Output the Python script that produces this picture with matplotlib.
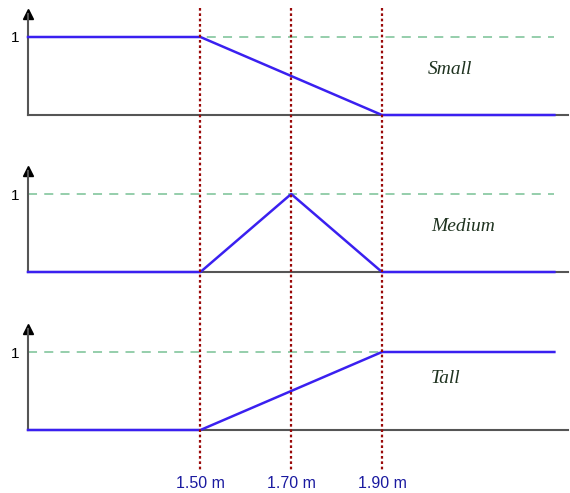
import numpy as np
import matplotlib.pyplot as plt
import matplotlib.transforms as mtransforms

# heights in metres and membership values
x_pts = [1.12, 1.50, 1.70, 1.90, 2.28]
small = [1, 1, 0.5, 0, 0]
medium = [0, 0, 1, 0, 0]
tall = [0, 0, 0.5, 1, 1]
names = ['Small', 'Medium', 'Tall']
name_pos = [(2.05, 0.58), (2.08, 0.58), (2.04, 0.66)]
cut_pts = [1.50, 1.70, 1.90]
cut_labels = ['1.50 m', '1.70 m', '1.90 m']

fig = plt.figure(figsize=(5.7, 4.93), dpi=100)

W, H = 570, 493
left, right = 28, 568
baselines = [115, 272, 430]
unit = 78
top_y = 1.30

axes = []
for base, ys, name, pos in zip(baselines, [small, medium, tall], names, name_pos):
    ax = fig.add_axes([left / W, 1 - base / H, (right - left) / W, unit * top_y / H])
    ax.set_xlim(1.12, 2.31)
    ax.set_ylim(0, top_y)
    for s in ['top', 'right']:
        ax.spines[s].set_visible(False)
    for s in ['left', 'bottom']:
        ax.spines[s].set_color('#555555')
        ax.spines[s].set_linewidth(1.5)
    ax.set_xticks([])
    ax.set_yticks([1])
    ax.set_yticklabels(['1'], fontsize=11, family='Liberation Sans')
    ax.tick_params(axis='y', length=0, pad=6)
    ax.plot([1.12, 2.28], [1, 1], color='#8ccaa5', lw=1.3, ls=(0, (5, 4)))
    ax.plot(x_pts, ys, color='#3a20f0', lw=1.8, clip_on=False, zorder=3)
    ax.plot([0], [top_y], marker='^', color='black', markersize=7,
            transform=ax.get_yaxis_transform(), clip_on=False)
    ax.text(pos[0], pos[1], name, fontsize=14, style='italic',
            family='Liberation Serif', color='#1f3320', ha='center', va='center')
    axes.append(ax)

trans = mtransforms.blended_transform_factory(axes[-1].transData, fig.transFigure)
for xc, lab in zip(cut_pts, cut_labels):
    fig.add_artist(plt.Line2D([xc, xc], [1 - 8 / H, 1 - 472 / H], transform=trans,
                              color='#9a0a0a', lw=1.6, ls=(0, (1.2, 1.2)), zorder=5))
    fig.text(xc, 1 - 483 / H, lab, transform=trans, ha='center', va='center',
             fontsize=11.5, color='#1a1aa0', family='Liberation Sans')

plt.savefig('out.png', dpi=100)
